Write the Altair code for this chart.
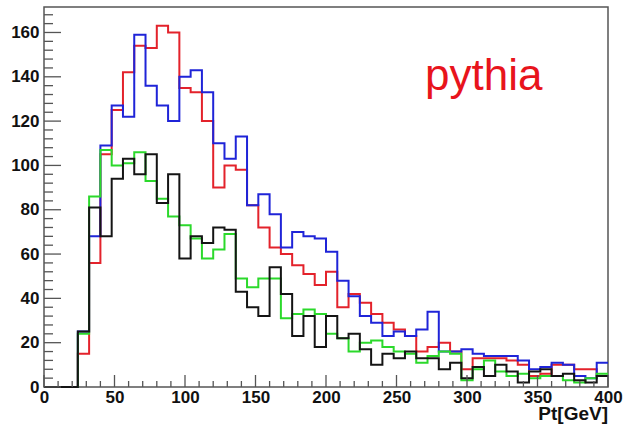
import altair as alt
import pandas as pd

# Histogram: 50 bins of width 8 GeV from 0 to 400
bin_width = 8
red = [0, 0, 0, 15, 56, 105, 125, 142, 154, 153, 163, 160, 135, 133, 120, 90, 100, 98, 82, 72,
       63, 60, 55, 51, 46, 52, 36, 42, 38, 33, 29, 26, 23, 16, 18, 20, 16, 8, 13, 13,
       13, 12, 10, 5, 6, 10, 10, 8, 8, 5]
blue = [0, 0, 0, 25, 68, 109, 127, 122, 159, 136, 127, 120, 140, 143, 133, 110, 103, 113, 82, 87,
        78, 63, 70, 68, 67, 61, 48, 41, 32, 29, 23, 25, 23, 26, 34, 16, 16, 17, 15, 14,
        14, 14, 12, 8, 9, 11, 10, 5, 4, 11]
green = [0, 0, 0, 24, 86, 107, 100, 101, 106, 93, 85, 77, 73, 67, 58, 62, 69, 49, 45, 49,
         49, 31, 33, 35, 33, 24, 22, 16, 20, 21, 18, 16, 15, 11, 14, 16, 15, 3, 8, 12,
         7, 5, 6, 4, 5, 5, 3, 2, 4, 6]
black = [0, 0, 0, 25, 81, 68, 94, 103, 96, 105, 83, 96, 58, 68, 65, 72, 71, 43, 36, 32,
         54, 42, 23, 32, 18, 32, 22, 24, 17, 10, 15, 13, 16, 13, 13, 8, 11, 4, 9, 5,
         10, 7, 2, 7, 8, 5, 6, 3, 2, 5]

series = [("red", red, "#e3222b"), ("blue", blue, "#1f24d8"),
          ("green", green, "#2bd92b"), ("black", black, "#141414")]

x_major = [0, 50, 100, 150, 200, 250, 300, 350, 400]
x_minor = list(range(0, 401, 10))
y_major = [0, 20, 40, 60, 80, 100, 120, 140, 160]
y_minor = list(range(0, 172, 4))

W, H = 564, 380
XMAX, YMAX = 400, 171.5

xs = alt.Scale(domain=[0, XMAX], nice=False, zero=False)
ys = alt.Scale(domain=[0, YMAX], nice=False)

x_axis = alt.Axis(values=x_major, title=None, ticks=False, tickSize=0, domain=False, grid=False,
                  labelFont="Liberation Sans", labelFontWeight="bold", labelFontSize=17,
                  labelColor="#111111", labelPadding=2, labelFlush=False)
y_axis = alt.Axis(values=y_major, title=None, ticks=False, tickSize=0, domain=False, grid=False,
                  labelFont="Liberation Sans", labelFontWeight="bold", labelFontSize=17,
                  labelColor="#111111", labelPadding=5)

layers = []
for name, vals, col in series:
    xsv = [i * bin_width for i in range(len(vals))] + [len(vals) * bin_width]
    yv = list(vals) + [vals[-1]]
    df = pd.DataFrame({"x": xsv, "y": yv})
    layers.append(alt.Chart(df).mark_line(interpolate="step-after", color=col, strokeWidth=2)
                  .encode(x=alt.X("x:Q", scale=xs, axis=x_axis),
                          y=alt.Y("y:Q", scale=ys, axis=y_axis)))

tick_col = "#555555"
xt_major = pd.DataFrame({"x": x_major})
xt_minor = pd.DataFrame({"x": [v for v in x_minor if v not in x_major]})
layers.append(alt.Chart(xt_major).mark_rule(color=tick_col, strokeWidth=1.3).encode(
    x=alt.X("x:Q", scale=xs, axis=x_axis), y=alt.value(H), y2=alt.value(H - 12)))
layers.append(alt.Chart(xt_minor).mark_rule(color=tick_col, strokeWidth=1.3).encode(
    x=alt.X("x:Q", scale=xs, axis=x_axis), y=alt.value(H), y2=alt.value(H - 6)))

yt_major = pd.DataFrame({"y": y_major})
yt_minor = pd.DataFrame({"y": [v for v in y_minor if v not in y_major]})
layers.append(alt.Chart(yt_major).mark_rule(color=tick_col, strokeWidth=1.3).encode(
    y=alt.Y("y:Q", scale=ys, axis=y_axis), x=alt.value(0), x2=alt.value(17)))
layers.append(alt.Chart(yt_minor).mark_rule(color=tick_col, strokeWidth=1.3).encode(
    y=alt.Y("y:Q", scale=ys, axis=y_axis), x=alt.value(0), x2=alt.value(9)))

label_df = pd.DataFrame({"t": ["pythia"]})
layers.append(alt.Chart(label_df).mark_text(
    font="Liberation Sans", fontSize=44, color="#e8141c", align="left", baseline="alphabetic"
).encode(text="t:N", x=alt.value(381), y=alt.value(83)))

title_df = pd.DataFrame({"t": ["Pt[GeV]"]})
layers.append(alt.Chart(title_df).mark_text(
    font="Liberation Sans", fontSize=19, fontWeight="bold", color="#111111",
    align="right", baseline="alphabetic"
).encode(text="t:N", x=alt.value(W), y=alt.value(413)))

chart = alt.layer(*layers).properties(
    width=W, height=H,
    autosize=alt.AutoSizeParams(type="none"),
    padding={"left": 44, "top": 7, "right": 15, "bottom": 40},
    background="white",
).configure_view(stroke="#555555", strokeWidth=1.5)

chart.save("out.html", embed_options={"renderer": "svg", "actions": False})
